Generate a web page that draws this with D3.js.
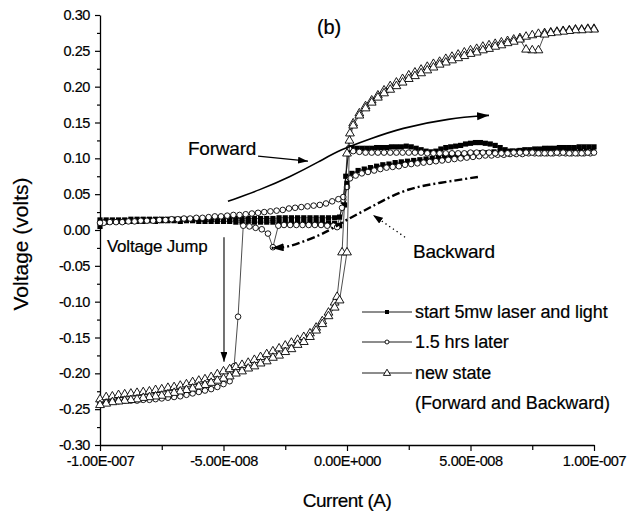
<!DOCTYPE html>
<html><head><meta charset="utf-8">
<script src="https://cdn.jsdelivr.net/npm/d3@7/dist/d3.min.js"></script>
<style>
body{margin:0;background:#fff}
svg{display:block}
text{font-family:"Liberation Sans",Arial,Helvetica,sans-serif;fill:#000}
</style>
</head><body>
<svg id="chart" width="629" height="518"></svg>
<script>
// ---------------- data ----------------
// currents are given in nA, voltages in volts
const xTickValues = [-100e-9, -50e-9, 0, 50e-9, 100e-9];
const xTickLabels = ["-1.00E-007", "-5.00E-008", "0.00E+000", "5.00E-008", "1.00E-007"];
const xMinorTicks = [-75e-9, -25e-9, 25e-9, 75e-9];
const yTickValues = [-0.30, -0.25, -0.20, -0.15, -0.10, -0.05, 0.00, 0.05, 0.10, 0.15, 0.20, 0.25, 0.30];
const yTickLabels = ["-0.30", "-0.25", "-0.20", "-0.15", "-0.10", "-0.05", "0.00", "0.05", "0.10", "0.15", "0.20", "0.25", "0.30"];
const yMinorTicks = [-0.275, -0.225, -0.175, -0.125, -0.075, -0.025, 0.025, 0.075, 0.125, 0.175, 0.225, 0.275];
const seriesNames = ["start 5mw laser and light", "1.5 hrs later", "new state"];
const legendNote = "(Forward and Backward)";

const squaresForward = [[-100,0.005],[-97.5,0.011],[-95,0.012],[-92.5,0.012],[-90,0.012],[-87.5,0.012],[-85,0.012],[-82.5,0.012],[-80,0.013],[-77.5,0.012],[-75,0.013],[-72.5,0.013],[-70,0.013],[-67.5,0.012],[-65,0.013],[-62.5,0.013],[-60,0.012],[-57.5,0.012],[-55,0.012],[-52.5,0.012],[-50,0.012],[-47.5,0.012],[-45,0.011],[-42.5,0.011],[-40,0.011],[-37.5,0.011],[-35,0.011],[-32.5,0.011],[-30,0.011],[-27.5,0.011],[-25,0.011],[-22.5,0.011],[-20,0.011],[-17.5,0.011],[-15,0.011],[-12.5,0.011],[-10,0.011],[-7.5,0.010],[-5,0.009],[-3,0.006],[-1,0.035],[0,0.065],[2,0.079],[4.5,0.083],[7,0.085],[9.5,0.087],[12,0.089],[14.5,0.091],[17,0.092],[19.5,0.094],[22,0.095],[24.5,0.096],[27,0.097],[29.5,0.098],[32,0.099],[34.5,0.100],[37,0.101],[39.5,0.102],[42,0.103],[44.5,0.104],[47,0.105],[49.5,0.106],[52,0.107],[54.5,0.108],[57,0.108],[59.5,0.109],[62,0.109],[64.5,0.109],[67,0.110],[69.5,0.110],[72,0.110],[74.5,0.110],[77,0.110],[79.5,0.110],[82,0.110],[84.5,0.110],[87,0.110],[89.5,0.110],[92,0.110],[94.5,0.110],[97,0.110],[99.5,0.110]];
const squaresBackward = [[100,0.116],[98,0.116],[96,0.116],[94,0.116],[92,0.115],[90,0.115],[88,0.115],[86,0.115],[84,0.114],[82,0.114],[80,0.114],[78,0.113],[76,0.113],[74,0.112],[72,0.112],[70,0.111],[68,0.110],[66,0.110],[64,0.112],[62,0.115],[60,0.118],[58,0.120],[56,0.121],[54,0.122],[52,0.122],[50,0.121],[48,0.120],[46,0.118],[44,0.117],[42,0.116],[40,0.115],[38,0.113],[36,0.110],[34,0.109],[32,0.110],[30,0.112],[28,0.114],[26,0.116],[24,0.117],[22,0.116],[20,0.116],[18,0.116],[16,0.115],[14,0.115],[12,0.115],[10,0.114],[8,0.114],[6,0.114],[4,0.114],[2,0.115],[0.8,0.112],[-0.5,0.075],[-1.5,0.040],[-3,0.018],[-5,0.017],[-7.5,0.017],[-10,0.017],[-12.5,0.017],[-15,0.017],[-17.5,0.017],[-20,0.017],[-22.5,0.017],[-25,0.017],[-27.5,0.017],[-30,0.016],[-32.5,0.016],[-35,0.016],[-37.5,0.016],[-40,0.016],[-42.5,0.016],[-45,0.016],[-47.5,0.016],[-50,0.016],[-52.5,0.016],[-55,0.015],[-57.5,0.015],[-60,0.015],[-62.5,0.015],[-65,0.015],[-67.5,0.015],[-70,0.015],[-72.5,0.015],[-75,0.015],[-77.5,0.015],[-80,0.015],[-82.5,0.015],[-85,0.015],[-87.5,0.015],[-90,0.014],[-92.5,0.014],[-95,0.014],[-97.5,0.014],[-100,0.014]];

const circlesForward = [[-100,-0.240],[-97.5,-0.240],[-95,-0.239],[-92.5,-0.239],[-90,-0.238],[-87.5,-0.238],[-85,-0.238],[-82.5,-0.237],[-80,-0.237],[-77.5,-0.236],[-75,-0.235],[-72.5,-0.234],[-70,-0.233],[-67.5,-0.232],[-65,-0.230],[-62.5,-0.228],[-60,-0.226],[-57.5,-0.224],[-55,-0.222],[-52.5,-0.219],[-50,-0.215],[-47.5,-0.211],[-45.7,-0.190],[-44.1,-0.121],[-42,0.006],[-39.5,0.005],[-37,0.003],[-34.5,0.001],[-32,-0.005],[-30,-0.024],[-27.8,0.006],[-25.5,0.007],[-23,0.007],[-20.5,0.007],[-18,0.007],[-15.5,0.007],[-13,0.007],[-10.5,0.007],[-8,0.006],[-5.5,0.006],[-4,0.004],[-2,0.031],[-1.5,0.042],[0,0.060],[1.2,0.072],[3.5,0.076],[6,0.079],[8.5,0.081],[11,0.083],[13.5,0.085],[16,0.087],[18.5,0.088],[21,0.089],[23.5,0.091],[26,0.092],[28.5,0.093],[31,0.094],[33.5,0.095],[36,0.096],[38.5,0.097],[41,0.098],[43.5,0.099],[46,0.100],[48.5,0.101],[51,0.102],[53.5,0.103],[56,0.104],[58.5,0.104],[61,0.105],[63.5,0.105],[66,0.106],[68.5,0.106],[71,0.106],[73.5,0.107],[76,0.107],[78.5,0.107],[81,0.107],[83.5,0.107],[86,0.107],[88.5,0.107],[91,0.107],[93.5,0.107],[96,0.107],[98.5,0.107]];
const circlesBackward = [[100,0.108],[97.5,0.108],[95,0.107],[92.5,0.107],[90,0.107],[87.5,0.108],[85,0.108],[82.5,0.107],[80,0.107],[77.5,0.107],[75,0.108],[72.5,0.108],[70,0.108],[67.5,0.108],[65,0.107],[62.5,0.107],[60,0.107],[57.5,0.108],[55,0.108],[52.5,0.108],[50,0.108],[47.5,0.107],[45,0.107],[42.5,0.107],[40,0.107],[37.5,0.107],[35,0.107],[32.5,0.107],[30,0.108],[27.5,0.108],[25,0.108],[22.5,0.108],[20,0.108],[17.5,0.108],[15,0.108],[12.5,0.108],[10,0.108],[7.5,0.108],[5,0.109],[2.5,0.110],[0.8,0.114],[-1.5,0.046],[-3.5,0.043],[-6,0.040],[-8.5,0.037],[-11,0.035],[-13.5,0.034],[-16,0.033],[-18.5,0.032],[-21,0.031],[-23.5,0.030],[-26,0.028],[-28.5,0.027],[-31,0.026],[-33.5,0.025],[-36,0.024],[-38.5,0.023],[-41,0.022],[-43.5,0.021],[-46,0.021],[-48.5,0.020],[-51,0.019],[-53.5,0.019],[-56,0.018],[-58.5,0.017],[-61,0.017],[-63.5,0.016],[-66,0.016],[-68.5,0.015],[-71,0.015],[-73.5,0.014],[-76,0.014],[-78.5,0.013],[-81,0.013],[-83.5,0.013],[-86,0.012],[-88.5,0.012],[-91,0.011],[-93.5,0.011],[-96,0.011],[-98.5,0.010],[-100,0.010]];

const trianglesForward = [[-100,-0.236],[-97.5,-0.233],[-95,-0.232],[-92.5,-0.230],[-90,-0.229],[-87.5,-0.228],[-85,-0.227],[-82.5,-0.226],[-80,-0.225],[-77.5,-0.223],[-75,-0.222],[-72.5,-0.220],[-70,-0.219],[-67.5,-0.217],[-65,-0.215],[-62.5,-0.212],[-60,-0.210],[-57.5,-0.208],[-55,-0.205],[-52.5,-0.201],[-50,-0.197],[-47.5,-0.194],[-45,-0.191],[-42.5,-0.188],[-40,-0.185],[-37.5,-0.181],[-35,-0.177],[-32.5,-0.173],[-30,-0.169],[-27.5,-0.165],[-25,-0.161],[-22.5,-0.157],[-20,-0.153],[-17.5,-0.149],[-15,-0.144],[-12.5,-0.136],[-10,-0.127],[-7.5,-0.115],[-5,-0.101],[-4,-0.093],[-2,-0.031],[0,0.107],[1.2,0.135],[2.5,0.149],[5,0.163],[7.5,0.173],[10,0.181],[12.5,0.188],[15,0.195],[17.5,0.201],[20,0.206],[22.5,0.211],[25,0.216],[27.5,0.220],[30,0.224],[32.5,0.228],[35,0.232],[37.5,0.235],[40,0.239],[42.5,0.242],[45,0.245],[47.5,0.248],[50,0.251],[52.5,0.253],[55,0.256],[57.5,0.258],[60,0.260],[62.5,0.262],[65,0.264],[67.5,0.266],[70,0.268],[72.5,0.270],[75,0.272],[77.5,0.274],[80,0.275],[82.5,0.276],[85,0.277],[87.5,0.278],[90,0.279],[92.5,0.280],[95,0.280],[97.5,0.281],[100,0.281]];
const trianglesBackward = [[100,0.280],[97.5,0.280],[95,0.279],[92.5,0.279],[90,0.278],[87.5,0.277],[85,0.276],[82.5,0.275],[80,0.273],[77.5,0.251],[75,0.251],[72.5,0.252],[70,0.266],[67.5,0.263],[65,0.261],[62.5,0.258],[60,0.256],[57.5,0.253],[55,0.251],[52.5,0.248],[50,0.246],[47.5,0.243],[45,0.240],[42.5,0.237],[40,0.234],[37.5,0.231],[35,0.227],[32.5,0.223],[30,0.219],[27.5,0.215],[25,0.211],[22.5,0.206],[20,0.201],[17.5,0.196],[15,0.191],[12.5,0.185],[10,0.178],[7.5,0.170],[5,0.160],[2.5,0.146],[1,0.125],[0,-0.031],[-3,-0.098],[-5,-0.108],[-7.5,-0.120],[-10,-0.131],[-12.5,-0.140],[-15,-0.149],[-17.5,-0.156],[-20,-0.160],[-22.5,-0.166],[-25,-0.170],[-27.5,-0.175],[-30,-0.178],[-32.5,-0.183],[-35,-0.186],[-37.5,-0.190],[-40,-0.193],[-42.5,-0.197],[-45,-0.200],[-47.5,-0.204],[-50,-0.207],[-52.5,-0.210],[-55,-0.213],[-57.5,-0.216],[-60,-0.218],[-62.5,-0.221],[-65,-0.223],[-67.5,-0.225],[-70,-0.227],[-72.5,-0.229],[-75,-0.231],[-77.5,-0.232],[-80,-0.233],[-82.5,-0.234],[-85,-0.236],[-87.5,-0.237],[-90,-0.238],[-92.5,-0.239],[-95,-0.240],[-97.5,-0.242],[-100,-0.244]];

// annotation paths (nA, V)
const forwardCurve = [[-48.2,0.040],[-35.2,0.056],[-23.1,0.074],[-10.9,0.096],[-2.8,0.112],[9.3,0.127],[21.5,0.142],[41.7,0.156],[57.5,0.160]];
const forwardPointer = [[-36,0.103],[-15.8,0.096]];
const backwardCurve = [[53.0,0.074],[37.7,0.066],[24.3,0.058],[13.4,0.039],[6.5,0.026],[1.2,0.017],[-6.9,0.000],[-10.9,-0.007],[-19.0,-0.018],[-24.3,-0.024],[-30.5,-0.025]];
const backwardPointer = [[23.5,-0.010],[10.5,0.021]];
const jumpPointer = [[-49.8,-0.010],[-49.8,-0.184]];
const labels = [
  {text:"(b)", at:[-7.3,0.273], size:20, anchor:"middle"},
  {text:"Forward", at:[-64.4,0.105], size:19, anchor:"start"},
  {text:"Backward", at:[26.7,-0.039], size:19, anchor:"start"},
  {text:"Voltage Jump", at:[-97.2,-0.031], size:17, anchor:"start"}
];

// ---------------- chart ----------------
const svg = d3.select("#chart");
const nA = 1e-9;
const x = d3.scaleLinear().domain([-100e-9, 100e-9]).range([100, 594]);
const y = d3.scaleLinear().domain([-0.30, 0.30]).range([445, 15]);
const px = d => x(d[0] * nA), py = d => y(d[1]);

// defs: arrowheads
const defs = svg.append("defs");
defs.append("marker").attr("id","ah").attr("markerUnits","userSpaceOnUse")
  .attr("markerWidth",14).attr("markerHeight",10).attr("refX",12).attr("refY",4)
  .attr("orient","auto").append("path").attr("d","M0,0 L12,4 L0,8 Z").attr("fill","#000");
defs.append("marker").attr("id","ahs").attr("markerUnits","userSpaceOnUse")
  .attr("markerWidth",12).attr("markerHeight",8).attr("refX",10).attr("refY",3.5)
  .attr("orient","auto").append("path").attr("d","M0,0 L10,3.5 L0,7 Z").attr("fill","#000");

// axes
const axisG = svg.append("g");
axisG.append("g").attr("transform","translate(100,0)")
  .call(d3.axisLeft(y).tickValues(yTickValues).tickFormat((d,i)=>yTickLabels[i]).tickSize(5).tickSizeOuter(0).tickPadding(5));
axisG.append("g").attr("transform","translate(100,0)")
  .call(d3.axisLeft(y).tickValues(yMinorTicks).tickFormat("").tickSize(3).tickSizeOuter(0))
  .select(".domain").remove();
axisG.append("g").attr("transform","translate(0,445)")
  .call(d3.axisBottom(x).tickValues(xTickValues).tickFormat((d,i)=>xTickLabels[i]).tickSize(6).tickSizeOuter(0).tickPadding(5));
axisG.append("g").attr("transform","translate(0,445)")
  .call(d3.axisBottom(x).tickValues(xMinorTicks).tickFormat("").tickSize(5).tickSizeOuter(0))
  .select(".domain").remove();
axisG.selectAll(".domain").attr("stroke","#000").attr("stroke-width",1.3);
axisG.selectAll(".tick line").attr("stroke","#000").attr("stroke-width",1.2);
axisG.selectAll(".tick text").attr("font-size",14.5).attr("font-family","'Liberation Sans',Arial,sans-serif")
  .attr("letter-spacing","-0.4").attr("stroke","#000").attr("stroke-width",0.2);

svg.append("text").attr("x",347).attr("y",507).attr("text-anchor","middle")
  .attr("font-size",19).attr("letter-spacing","-0.5").attr("stroke","#000").attr("stroke-width",0.2).text("Current (A)");
svg.append("text").attr("transform","translate(28,244) rotate(-90)").attr("text-anchor","middle")
  .attr("font-size",21).attr("stroke","#000").attr("stroke-width",0.2).text("Voltage (volts)");

// series
const line = d3.line().x(px).y(py);
const plot = svg.append("g");
const triPath = "M0,-4.8 L4.4,2.7 L-4.4,2.7 Z";
function drawSeries(branches, kind){
  const g = plot.append("g");
  branches.forEach(b => g.append("path").attr("d", line(b)).attr("fill","none").attr("stroke","#000").attr("stroke-width",0.7));
  branches.forEach(b => {
    const sel = g.append("g").selectAll("x").data(b).enter();
    if (kind === "square") {
      sel.append("rect").attr("x", d=>px(d)-2.6).attr("y", d=>py(d)-2.6).attr("width",5.2).attr("height",5.2).attr("fill","#000");
    } else if (kind === "circle") {
      sel.append("circle").attr("cx",px).attr("cy",py).attr("r",2.8).attr("fill","#fff").attr("stroke","#000").attr("stroke-width",0.9);
    } else {
      sel.append("path").attr("d",triPath).attr("transform",d=>`translate(${px(d)},${py(d)})`).attr("fill","#fff").attr("stroke","#000").attr("stroke-width",0.9);
    }
  });
}
drawSeries([squaresForward, squaresBackward], "square");
drawSeries([circlesForward, circlesBackward], "circle");
drawSeries([trianglesForward, trianglesBackward], "triangle");

// annotations
const ann = svg.append("g");
ann.append("path").attr("d", d3.line().x(px).y(py).curve(d3.curveBasis)(forwardCurve))
  .attr("fill","none").attr("stroke","#000").attr("stroke-width",1.6).attr("marker-end","url(#ah)");
ann.append("path").attr("d", line(forwardPointer)).attr("stroke","#000").attr("stroke-width",1.2).attr("marker-end","url(#ahs)");
ann.append("path").attr("d", d3.line().x(px).y(py).curve(d3.curveBasis)(backwardCurve))
  .attr("fill","none").attr("stroke","#000").attr("stroke-width",2.4).attr("stroke-dasharray","8,3,2,3").attr("marker-end","url(#ah)");
ann.append("path").attr("d", line(backwardPointer)).attr("stroke","#000").attr("stroke-width",1.3).attr("stroke-dasharray","1.3,3.2").attr("marker-end","url(#ahs)");
ann.append("path").attr("d", line(jumpPointer)).attr("stroke","#000").attr("stroke-width",1.1).attr("marker-end","url(#ahs)");
labels.forEach(l => ann.append("text").attr("x", x(l.at[0]*nA)).attr("y", y(l.at[1]))
  .attr("text-anchor", l.anchor).attr("font-size", l.size).attr("letter-spacing","-0.2")
  .attr("stroke","#000").attr("stroke-width",0.2).text(l.text));

// legend
const legend = svg.append("g");
const rows = [312, 342, 373];
const kinds = ["square","circle","triangle"];
kinds.forEach((k,i) => {
  const r = legend.append("g").attr("transform",`translate(0,${rows[i]})`);
  r.append("line").attr("x1",362).attr("x2",412).attr("y1",0).attr("y2",0).attr("stroke","#000").attr("stroke-width",0.9);
  if (k==="square") r.append("rect").attr("x",385).attr("y",-2).attr("width",4).attr("height",4).attr("fill","#000");
  else if (k==="circle") r.append("circle").attr("cx",387).attr("cy",0).attr("r",2).attr("fill","#fff").attr("stroke","#000").attr("stroke-width",0.9);
  else r.append("path").attr("d","M0,-3.8 L3.6,2.4 L-3.6,2.4 Z").attr("transform","translate(387,0)").attr("fill","#fff").attr("stroke","#000").attr("stroke-width",0.9);
  r.append("text").attr("x",415).attr("y",6).attr("font-size",18).attr("letter-spacing","-0.1")
    .attr("stroke","#000").attr("stroke-width",0.2).text(seriesNames[i]);
});
legend.append("text").attr("x",415).attr("y",409).attr("font-size",18).attr("letter-spacing","-0.1")
  .attr("stroke","#000").attr("stroke-width",0.2).text(legendNote);
</script>
</body></html>
